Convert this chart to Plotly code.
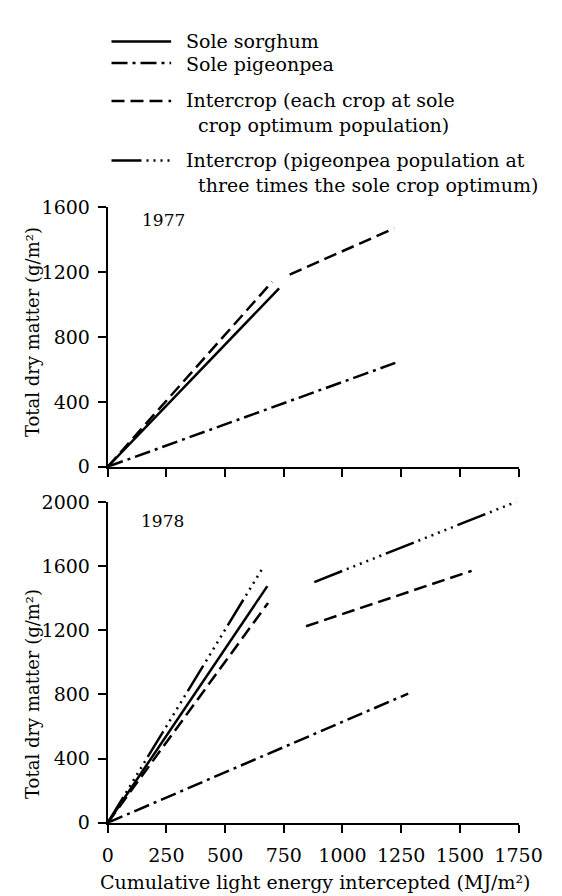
import plotly.graph_objects as go

# ---------------- data ----------------
x_ticks = [0, 250, 500, 750, 1000, 1250, 1500, 1750]
y_ticks_1977 = [0, 400, 800, 1200, 1600]
y_ticks_1978 = [0, 400, 800, 1200, 1600, 2000]

# 1977
sorghum_1977_x = [0, 730]
sorghum_1977_y = [0, 1100]
pigeonpea_1977_x = [0, 1225]
pigeonpea_1977_y = [0, 640]
intercrop_1977_x = [0, 700, None, 775, 1220]
intercrop_1977_y = [0, 1140, None, 1185, 1470]

# 1978
sorghum_1978_x = [0, 680]
sorghum_1978_y = [0, 1475]
pigeonpea_1978_x = [0, 1280]
pigeonpea_1978_y = [0, 805]
intercrop_1978_x = [0, 683, None, 845, 1550]
intercrop_1978_y = [0, 1370, None, 1225, 1570]
intercrop3x_1978_x = [0, 665, None, 880, 1740]
intercrop3x_1978_y = [0, 1600, None, 1500, 2000]

legend_names = [
    "Sole sorghum",
    "Sole pigeonpea",
    "Intercrop (each crop at sole<br>\u00a0\u00a0crop optimum population)",
    "Intercrop (pigeonpea population at<br>\u00a0\u00a0three times the sole crop optimum)",
]

# ---------------- styles ----------------
FONT = "DejaVu Serif"
W, H = 562, 896
LW = 2.5
DASH = {
    "solid": "solid",
    "dashdot": "16px,5px,3px,5px",
    "dash": "13px,6px",
    "longdots": "30px,5px,2px,5px,2px,5px,2px,5px,2px,5px,2px,5px,2px,5px",
}
styles = ["solid", "dashdot", "dash", "longdots"]


def px_x(p):
    return p / W


def px_y(p):
    return (H - p) / H


fig = go.Figure()


def add(x, y, style, xa, ya):
    fig.add_trace(go.Scatter(
        x=x, y=y, mode="lines", xaxis=xa, yaxis=ya, showlegend=False,
        line=dict(color="black", width=LW, dash=DASH[style]),
        connectgaps=False, hoverinfo="skip"))


add(sorghum_1977_x, sorghum_1977_y, "solid", "x", "y")
add(pigeonpea_1977_x, pigeonpea_1977_y, "dashdot", "x", "y")
add(intercrop_1977_x, intercrop_1977_y, "dash", "x", "y")

add(sorghum_1978_x, sorghum_1978_y, "solid", "x2", "y2")
add(pigeonpea_1978_x, pigeonpea_1978_y, "dashdot", "x2", "y2")
add(intercrop_1978_x, intercrop_1978_y, "dash", "x2", "y2")
add(intercrop3x_1978_x, intercrop3x_1978_y, "longdots", "x2", "y2")

xdom = [px_x(99), px_x(533)]
axis_common = dict(
    showline=True, linecolor="black", linewidth=2,
    ticks="outside", ticklen=8, tickwidth=2, tickcolor="black",
    showgrid=False, zeroline=False,
    tickfont=dict(family=FONT, size=19, color="black"),
)

fig.update_layout(
    width=W, height=H,
    margin=dict(l=0, r=0, t=0, b=0),
    paper_bgcolor="white", plot_bgcolor="white",
    font=dict(family=FONT, color="black", size=18),
    xaxis=dict(domain=xdom, range=[0, 1750], tickvals=x_ticks,
               showticklabels=False, anchor="y", **axis_common),
    yaxis=dict(domain=[px_y(459), px_y(193)], range=[0, 1600],
               tickvals=y_ticks_1977, anchor="x", ticklabelstandoff=4,
               **axis_common),
    xaxis2=dict(domain=xdom, range=[0, 1750], tickvals=x_ticks,
                anchor="y2", ticklabelstandoff=6, **axis_common),
    yaxis2=dict(domain=[px_y(824), px_y(495)], range=[0, 2000],
                tickvals=y_ticks_1978, anchor="x2", ticklabelstandoff=4,
                **axis_common),
)

ann = []
# panel labels
ann.append(dict(text="1977", x=px_x(133), y=px_y(206), xref="paper", yref="paper",
                xanchor="left", yanchor="middle", showarrow=False,
                font=dict(family=FONT, size=17)))
ann.append(dict(text="1978", x=px_x(132), y=px_y(515), xref="paper", yref="paper",
                xanchor="left", yanchor="middle", showarrow=False,
                font=dict(family=FONT, size=17)))
# axis titles
ytitle = "Total dry matter (g/m\u00b2)"
ann.append(dict(text=ytitle, x=px_x(19), y=px_y(321), xref="paper", yref="paper",
                textangle=-90, xanchor="center", yanchor="middle", showarrow=False,
                font=dict(family=FONT, size=18)))
ann.append(dict(text=ytitle, x=px_x(19), y=px_y(692), xref="paper", yref="paper",
                textangle=-90, xanchor="center", yanchor="middle", showarrow=False,
                font=dict(family=FONT, size=18)))
ann.append(dict(text="Cumulative light energy intercepted (MJ/m\u00b2)",
                x=px_x(318), y=px_y(885), xref="paper", yref="paper",
                xanchor="center", yanchor="middle", showarrow=False,
                font=dict(family=FONT, size=19)))

# legend (manual)
leg_line_y = [23, 45, 84, 145]
leg_text_y = [23, 46, 95.5, 157.5]
shapes = []
for i, name in enumerate(legend_names):
    shapes.append(dict(type="line", xref="paper", yref="paper",
                       x0=px_x(103), x1=px_x(166),
                       y0=px_y(leg_line_y[i]), y1=px_y(leg_line_y[i]),
                       line=dict(color="black", width=LW, dash=DASH[styles[i]])))
    ann.append(dict(text=name, x=px_x(180), y=px_y(leg_text_y[i]), xref="paper",
                    yref="paper", xanchor="left", yanchor="middle", align="left",
                    showarrow=False, font=dict(family=FONT, size=19)))

fig.update_layout(annotations=ann, shapes=shapes)

fig.write_html("out.html")
